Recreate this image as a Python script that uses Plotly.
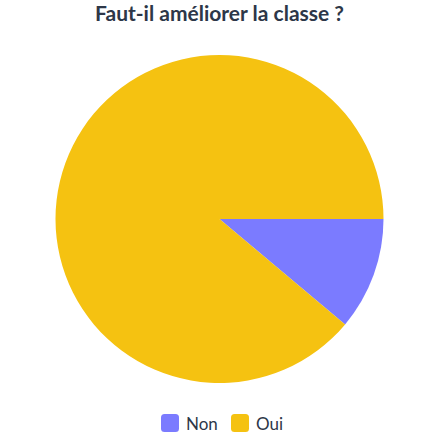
import plotly.graph_objects as go

W, H = 439, 448

labels = ["Non", "Oui"]
values = [3, 24]
colors = ["#7B7BFF", "#F5C211"]

# custom legend positions (pixels): box left edge, text left edge
legend_box_x = [161, 231]
legend_text_x = [184, 254]
legend_y = 423
box = 18
text_color = "#2D3748"


def px(x):
    return x / W


def py(y):
    return 1 - y / H


cx, cy, rad = 219.5, 219, 164

fig = go.Figure(go.Pie(
    labels=labels,
    values=values,
    marker=dict(colors=colors, line=dict(width=0)),
    sort=False,
    direction="clockwise",
    rotation=90,
    textinfo="none",
    hoverinfo="label+value+percent",
    showlegend=False,
    domain=dict(x=[px(cx - rad), px(cx + rad)], y=[py(cy + rad), py(cy - rad)]),
))


def rounded_box(x0, y0, s, r):
    # rounded square path in paper coordinates
    return (
        f"M {px(x0 + r)},{py(y0)} L {px(x0 + s - r)},{py(y0)} "
        f"Q {px(x0 + s)},{py(y0)} {px(x0 + s)},{py(y0 + r)} "
        f"L {px(x0 + s)},{py(y0 + s - r)} "
        f"Q {px(x0 + s)},{py(y0 + s)} {px(x0 + s - r)},{py(y0 + s)} "
        f"L {px(x0 + r)},{py(y0 + s)} "
        f"Q {px(x0)},{py(y0 + s)} {px(x0)},{py(y0 + s - r)} "
        f"L {px(x0)},{py(y0 + r)} "
        f"Q {px(x0)},{py(y0)} {px(x0 + r)},{py(y0)} Z"
    )


shapes = []
annotations = []
for lab, col, bx, tx in zip(labels, colors, legend_box_x, legend_text_x):
    shapes.append(dict(
        type="path", xref="paper", yref="paper",
        path=rounded_box(bx, legend_y - box / 2, box, 3.5),
        fillcolor=col, line=dict(width=0),
    ))
    annotations.append(dict(
        text=lab, xref="paper", yref="paper",
        x=px(tx), y=py(legend_y), xanchor="left", yanchor="middle",
        showarrow=False, font=dict(family="Lato", size=17, color=text_color),
    ))

fig.update_layout(
    width=W, height=H,
    margin=dict(l=0, r=0, t=0, b=0),
    paper_bgcolor="white",
    title=dict(
        text="<b>Faut-il améliorer la classe ?</b>",
        x=px(219.5), xanchor="center", xref="paper",
        y=py(13.5), yanchor="middle",
        font=dict(family="Lato", size=21, color=text_color),
    ),
    shapes=shapes,
    annotations=annotations,
)

# drop the default 8px page margin so the figure fills the window
fig.write_html(
    "out.html",
    config={"displayModeBar": False},
    post_script="document.body.style.margin = '0';",
)
